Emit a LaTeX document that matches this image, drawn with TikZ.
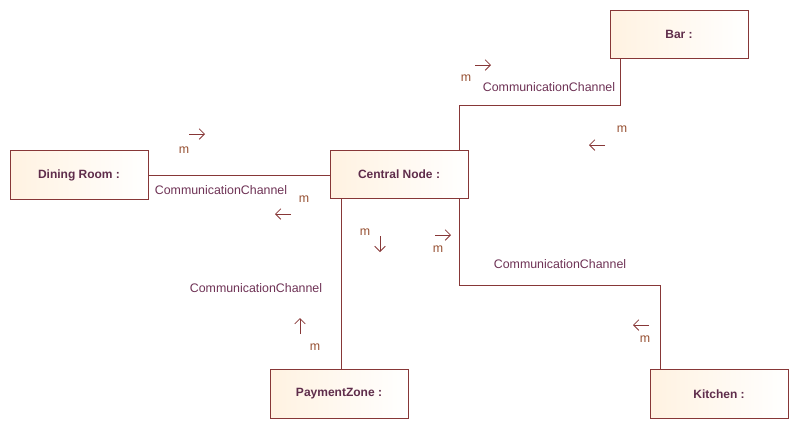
\documentclass[tikz,border=0pt]{standalone}
\usepackage{fontspec}
\setmainfont{Liberation Sans}
\usetikzlibrary{arrows.meta}
\definecolor{edge}{RGB}{135,55,55}
\definecolor{boxtxt}{RGB}{95,45,75}
\definecolor{lbl}{RGB}{110,50,85}
\definecolor{mcol}{RGB}{150,80,50}
\definecolor{fillL}{RGB}{255,242,225}
\tikzset{
  comp/.style={draw=edge, line width=0.75pt, left color=fillL, right color=white, minimum width=103.5pt, minimum height=36.5pt, inner sep=0pt, font=\fontsize{9}{10}\selectfont\bfseries, text=boxtxt},
  conn/.style={draw=edge, line width=0.75pt},
  lab/.style={font=\fontsize{9.3}{10}\selectfont, text=lbl, inner sep=0pt},
  mlab/.style={font=\fontsize{9.3}{10}\selectfont, text=mcol, inner sep=0pt},
  msg/.style={draw=edge, line width=0.6pt, -{Straight Barb[length=4pt,width=8pt]}}
}
\begin{document}
\begin{tikzpicture}[x=0.75pt,y=-0.75pt]
\useasboundingbox (0,0) rectangle (799,430);
\node[comp] (dining) at (79,175) {Dining Room :};
\node[comp] (central) at (399,174.5) {Central Node :};
\node[comp] (bar) at (679,34.5) {Bar :};
\node[comp] (pay) at (339,394) {PaymentZone :};
\node[comp] (kitchen) at (719,394) {Kitchen :};
\coordinate (cb1) at (459,105);
\coordinate (cb2) at (620,105);
\coordinate (ck1) at (459,285);
\coordinate (ck2) at (660,285);
\coordinate (cd) at (0,175);
\draw[conn] (dining.east |- cd) -- (central.west |- cd);
\draw[conn] (central.north -| cb1) -- (cb1) -- (cb2) -- (bar.south -| cb2);
\draw[conn] (central.south -| 341,0) -- (pay.north -| 341,0);
\draw[conn] (central.south -| ck1) -- (ck1) -- (ck2) -- (kitchen.north -| ck2);
% labels
\node[lab] (l1) at (221,190) {CommunicationChannel};
\node[lab] (l2) at (549,87) {CommunicationChannel};
\node[lab] (l3) at (560,264) {CommunicationChannel};
\node[lab] (l4) at (256,288) {CommunicationChannel};
\node[mlab] (m1) at (184,150) {m};
\node[mlab] (m2) at (304,199) {m};
\node[mlab] (m3) at (466,78) {m};
\node[mlab] (m4) at (622,129) {m};
\node[mlab] (m5) at (365,232) {m};
\node[mlab] (m6) at (438,249) {m};
\node[mlab] (m7) at (315,347) {m};
\node[mlab] (m8) at (645,339) {m};
% message arrows
\coordinate (a1s) at (189,134); \coordinate (a1e) at (205,134);
\coordinate (a2s) at (291,214); \coordinate (a2e) at (275,214);
\coordinate (a3s) at (475,65); \coordinate (a3e) at (491,65);
\coordinate (a4s) at (605,145); \coordinate (a4e) at (589,145);
\coordinate (a5s) at (380,236); \coordinate (a5e) at (380,252);
\coordinate (a6s) at (435,235); \coordinate (a6e) at (451,235);
\coordinate (a7s) at (300,334); \coordinate (a7e) at (300,318);
\coordinate (a8s) at (649,325); \coordinate (a8e) at (633,325);
\foreach \i in {1,...,8} \draw[msg] (a\i s) -- (a\i e);
\end{tikzpicture}
\end{document}
